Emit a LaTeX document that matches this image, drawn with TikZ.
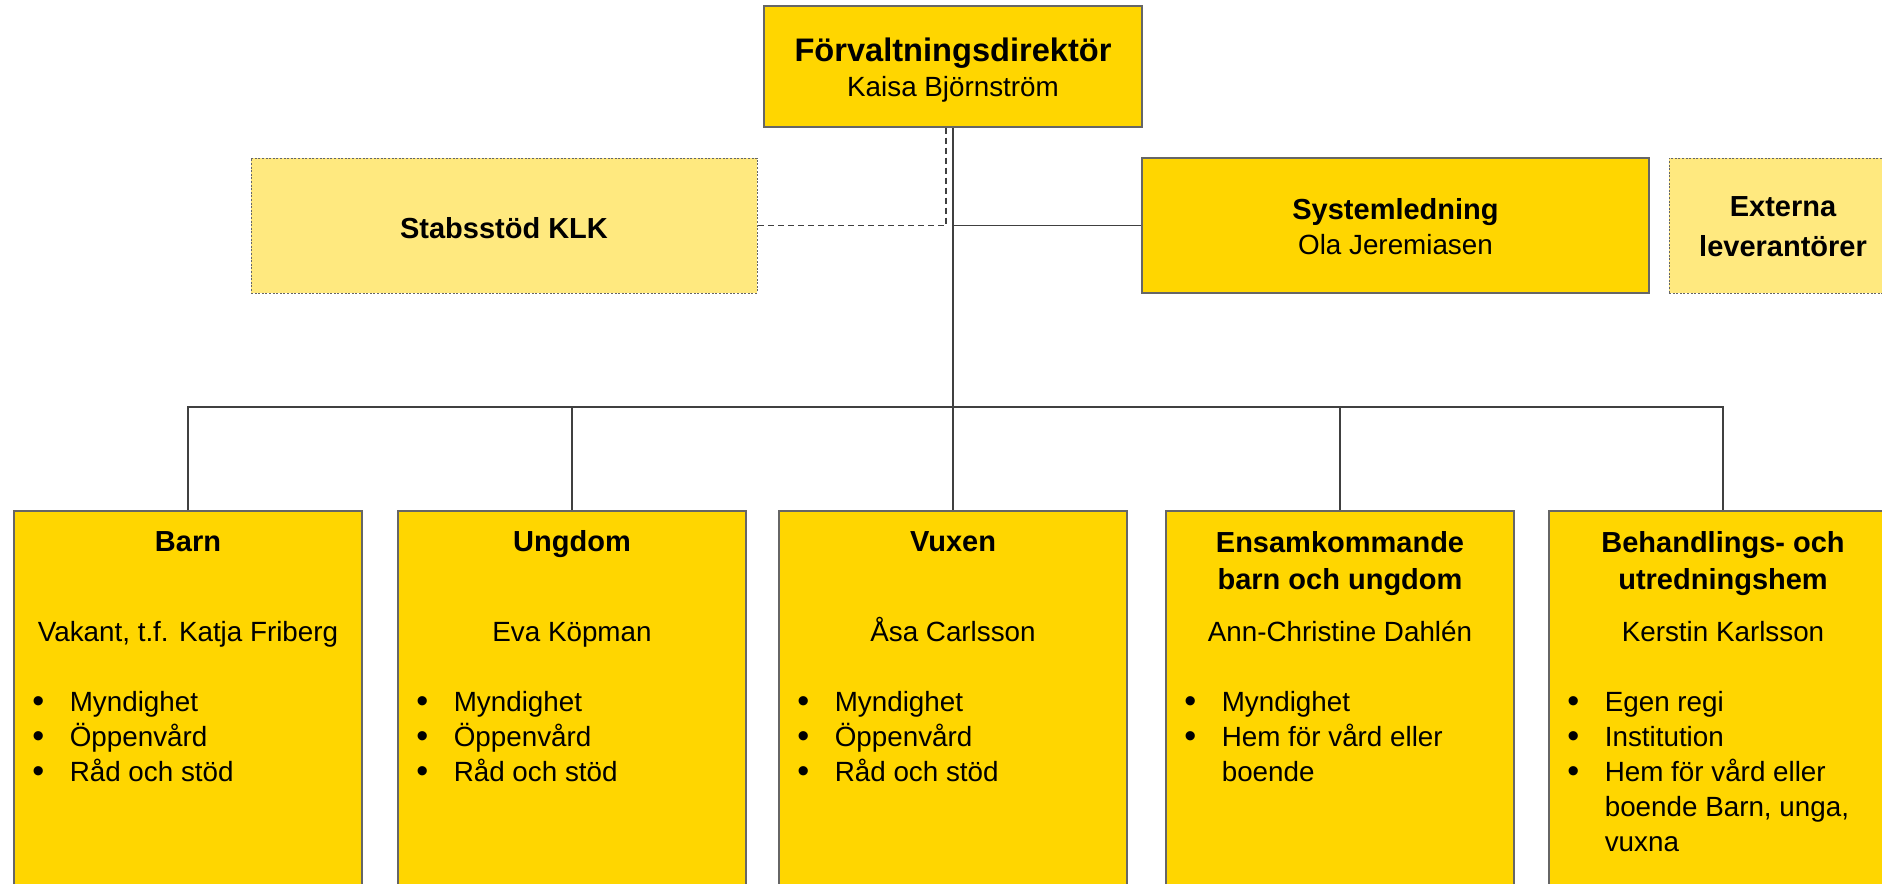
\documentclass[tikz,border=0pt]{standalone}
\usepackage{fontspec}
\setmainfont{Liberation Sans}
\definecolor{OrgGold}{HTML}{FFD600}
\definecolor{OrgPale}{HTML}{FFE97F}
\definecolor{OrgLine}{HTML}{404040}
\tikzset{
    unit/.style={rectangle, draw=black!60, fill=OrgGold, line width=0.6pt,
                 inner sep = 0},
    paleunit/.style={rectangle, draw=black!60, fill=OrgPale, line width=0.5pt,
                 dash pattern=on 1pt off 0.8pt, inner sep = 0},
    textlayer/.style={inner sep = 0, anchor=base},
    headstyle/.style={font=\fontsize{16.3}{19}\selectfont\bfseries},
    titlestyle/.style={font=\fontsize{14.5}{17}\selectfont\bfseries},
    namestyle/.style={font=\fontsize{13.9}{16}\selectfont},
    dotstyle/.style={font=\fontsize{17}{16}\selectfont, yshift=-0.6pt},
    itemstyle/.style={anchor=base west, font=\fontsize{13.9}{16}\selectfont},
    link/.style={draw=OrgLine, line width=0.75pt},
    staff/.style={draw=OrgLine, line width=0.75pt, dash pattern=on 3pt off 2pt},
}
\newcommand{\rad}[5]{%
    \node[textlayer,#4] (#1#2) at ([yshift=-#3]#1.north) {#5};
}
\newcommand{\punkt}[3]{%
    \node[textlayer,dotstyle] (#1B#2) at ([xshift=12.5pt,yshift={-100.5pt-17.5pt*#2}]#1.north west) {•};
    \node[textlayer,itemstyle] (#1P#2) at ([xshift=28pt,yshift={-100.5pt-17.5pt*#2}]#1.north west) {#3};
}
\newcommand{\fortsatt}[3]{%
    \node[textlayer,itemstyle] (#1P#2) at ([xshift=28pt,yshift={-100.5pt-17.5pt*#2}]#1.north west) {#3};
}
\begin{document}
\begin{tikzpicture}[x=0.5pt, y=-0.5pt]
        \useasboundingbox (0,0) rectangle (1882,883);
        \clip (0,0) rectangle (1882,883);
        % Director
        \node[unit, minimum width = 189pt, minimum height = 60.5pt] (Dir) at (953,66.5) {};
        \rad{Dir}{T}{28pt}{headstyle}{Förvaltningsdirektör}
        \rad{Dir}{N}{45.5pt}{namestyle}{Kaisa Björnström}
        %
        %
        % Staff line
        \node[paleunit, minimum width = 253pt, minimum height = 67.5pt] (Stab) at (504,225.5) {};
        \rad{Stab}{T}{40.5pt}{titlestyle}{Stabsstöd KLK}
        \node[unit, minimum width = 253.5pt, minimum height = 67.5pt] (Sys) at (1395.5,225.5) {};
        \rad{Sys}{T}{31pt}{titlestyle}{Systemledning}
        \rad{Sys}{N}{48.5pt}{namestyle}{Ola Jeremiasen}
        \node[paleunit, minimum width = 114pt, minimum height = 67.5pt] (Ext) at (1783,225.5) {};
        \rad{Ext}{T}{29.5pt}{titlestyle}{Externa}
        \rad{Ext}{U}{49.5pt}{titlestyle}{leverantörer}
        %
        %
        % Units
        \node[unit, minimum width = 174pt, minimum height = 224.5pt] (Barn) at (188,735.5) {};
        \rad{Barn}{T}{20.5pt}{titlestyle}{Barn}
        \rad{Barn}{N}{65.5pt}{namestyle}{Vakant, t.f. Katja Friberg}
        \punkt{Barn}{0}{Myndighet}
        \punkt{Barn}{1}{Öppenvård}
        \punkt{Barn}{2}{Råd och stöd}
        \node[unit, minimum width = 174pt, minimum height = 224.5pt] (Ungdom) at (572,735.5) {};
        \rad{Ungdom}{T}{20.5pt}{titlestyle}{Ungdom}
        \rad{Ungdom}{N}{65.5pt}{namestyle}{Eva Köpman}
        \punkt{Ungdom}{0}{Myndighet}
        \punkt{Ungdom}{1}{Öppenvård}
        \punkt{Ungdom}{2}{Råd och stöd}
        \node[unit, minimum width = 174pt, minimum height = 224.5pt] (Vuxen) at (953,735.5) {};
        \rad{Vuxen}{T}{20.5pt}{titlestyle}{Vuxen}
        \rad{Vuxen}{N}{65.5pt}{namestyle}{Åsa Carlsson}
        \punkt{Vuxen}{0}{Myndighet}
        \punkt{Vuxen}{1}{Öppenvård}
        \punkt{Vuxen}{2}{Råd och stöd}
        \node[unit, minimum width = 174pt, minimum height = 224.5pt] (Ensam) at (1340,735.5) {};
        \rad{Ensam}{T}{21pt}{titlestyle}{Ensamkommande}
        \rad{Ensam}{U}{39.5pt}{titlestyle}{barn och ungdom}
        \rad{Ensam}{N}{65.5pt}{namestyle}{Ann-Christine Dahlén}
        \punkt{Ensam}{0}{Myndighet}
        \punkt{Ensam}{1}{Hem för vård eller}
        \fortsatt{Ensam}{2}{boende}
        \node[unit, minimum width = 174pt, minimum height = 224.5pt] (Behand) at (1723,735.5) {};
        \rad{Behand}{T}{21pt}{titlestyle}{Behandlings- och}
        \rad{Behand}{U}{39.5pt}{titlestyle}{utredningshem}
        \rad{Behand}{N}{65.5pt}{namestyle}{Kerstin Karlsson}
        \punkt{Behand}{0}{Egen regi}
        \punkt{Behand}{1}{Institution}
        \punkt{Behand}{2}{Hem för vård eller}
        \fortsatt{Behand}{3}{boende Barn, unga,}
        \fortsatt{Behand}{4}{vuxna}
        %
        %
        % Lines
        \coordinate (bus) at (953,407);
        \draw[link] (Dir.south) -- (Vuxen.north);
        \draw[link] (Barn.north) |- (bus) -| (Behand.north);
        \draw[link] (Ungdom.north) -- (Ungdom.north |- bus);
        \draw[link] (Ensam.north) -- (Ensam.north |- bus);
        \draw[link] (Dir.south |- Sys.west) -- (Sys.west);
        \draw[staff] ([xshift=-3.5pt]Dir.south) |- (Stab.east);
    \end{tikzpicture}
\end{document}
